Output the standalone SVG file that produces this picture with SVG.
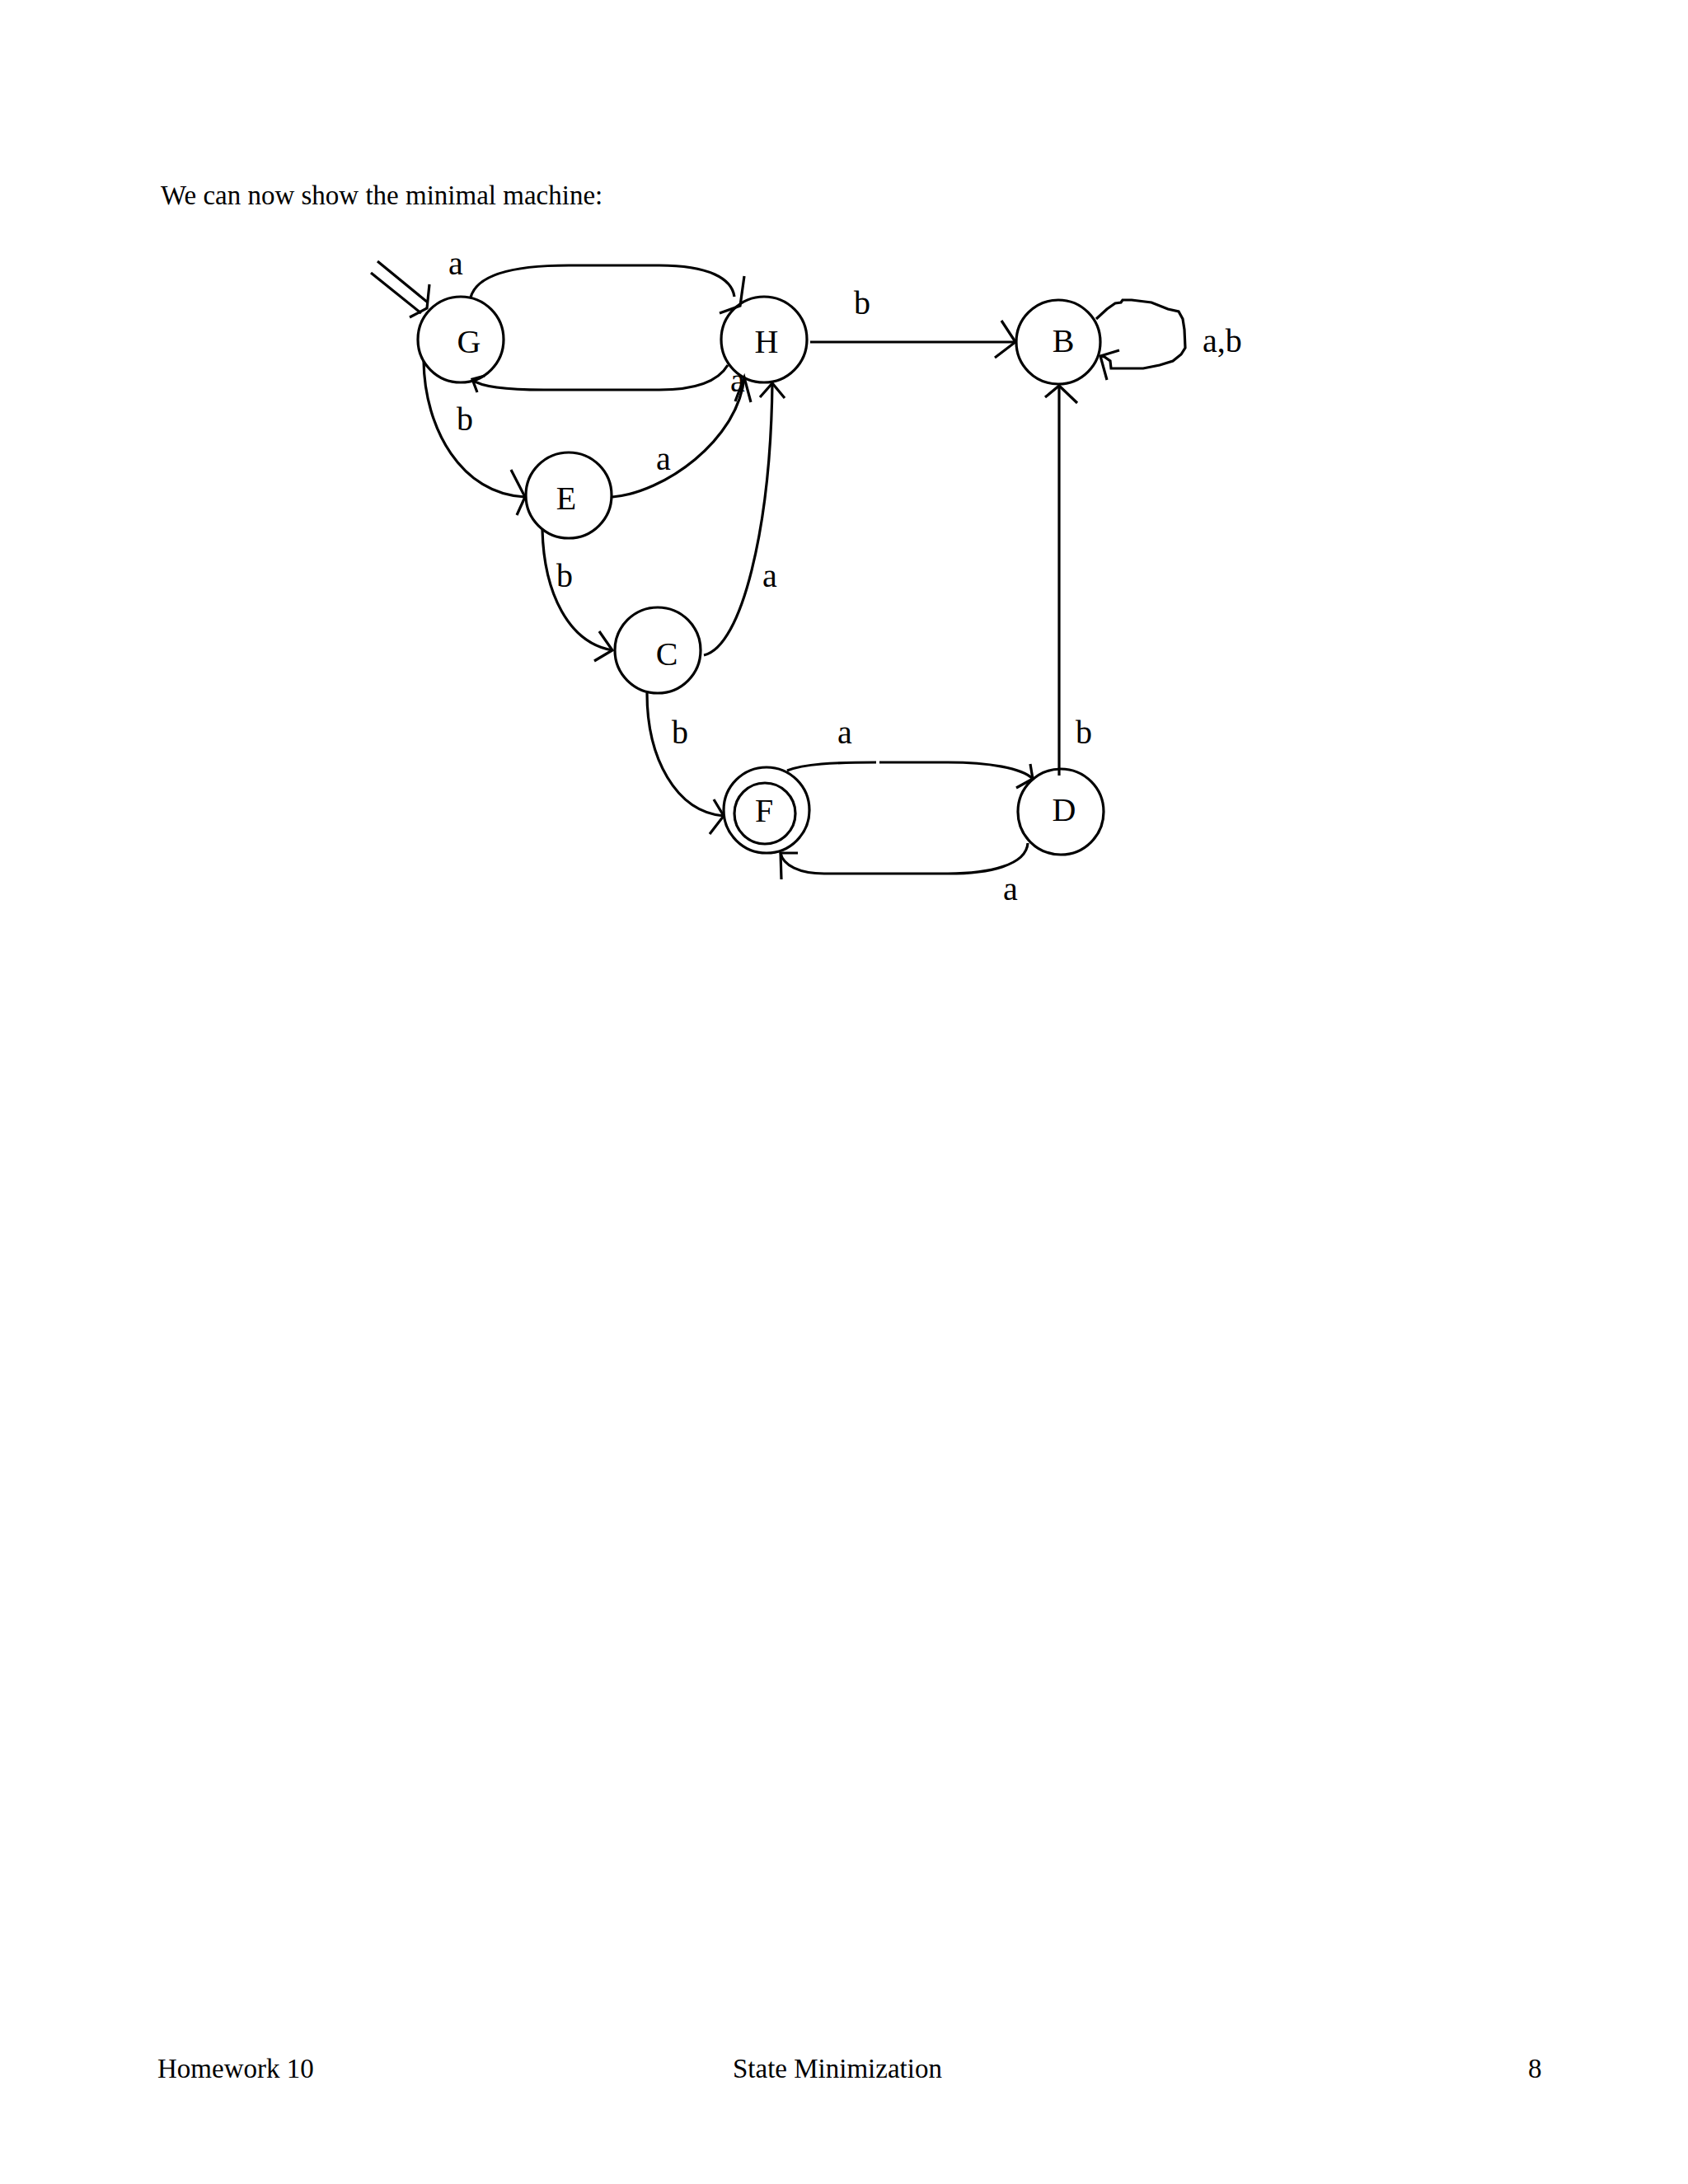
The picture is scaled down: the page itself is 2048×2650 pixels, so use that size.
<svg xmlns="http://www.w3.org/2000/svg" width="2048" height="2650" viewBox="0 0 2048 2650">
<style>
.node{fill:none;stroke:#000;stroke-width:3.2}
.edge{fill:none;stroke:#000;stroke-width:3.2}
.head{fill:none;stroke:#000;stroke-width:3.2;stroke-linejoin:miter}
.lbl{font-family:"Liberation Serif","Times New Roman",serif;font-size:40px;fill:#000}
.st{font-family:"Liberation Serif","Times New Roman",serif;font-size:40px;fill:#000;text-anchor:middle}
.body{font-family:"Liberation Serif","Times New Roman",serif;font-size:33px;fill:#000}
</style>
<rect width="2048" height="2650" fill="#fff"/>
<text class="body" x="195" y="248">We can now show the minimal machine:</text>

<g id="connectors">
  <g id="start">
    <line class="edge" x1="458" y1="317" x2="519" y2="367"/>
    <line class="edge" x1="450" y1="331" x2="511" y2="380"/>
    <polyline class="head" points="521,345 518,374 497,385"/>
  </g>
  <g id="G-H">
    <path class="edge" d="M571 361 C578 334 620 322 690 322 L800 322 C860 322 888 338 891 360"/>
    <polyline class="head" points="903,335 898,371 873,380"/>
    <text class="lbl" x="553" y="333" text-anchor="middle">a</text>
  </g>
  <g id="H-G">
    <path class="edge" d="M883 443 C870 465 840 473 800 473 L660 473 C610 473 582 468 573 461"/>
    <polyline class="head" points="588,456 573,460 579,476"/>
    <text class="lbl" x="895" y="475" text-anchor="middle">a</text>
  </g>
  <g id="G-E">
    <path class="edge" d="M514 438 C515 520 560 600 637 603"/>
    <polyline class="head" points="620,570 637,603 627,625"/>
    <text class="lbl" x="564" y="522" text-anchor="middle">b</text>
  </g>
  <g id="E-H">
    <path class="edge" d="M743 603 C805 598 895 535 903 458"/>
    <polyline class="head" points="892,487 903,458 911,488"/>
    <text class="lbl" x="805" y="570" text-anchor="middle">a</text>
  </g>
  <g id="E-C">
    <path class="edge" d="M658 643 C660 720 690 780 743 789"/>
    <polyline class="head" points="727,766 743,789 721,802"/>
    <text class="lbl" x="685" y="712" text-anchor="middle">b</text>
  </g>
  <g id="C-H">
    <path class="edge" d="M854 795 C900 785 935 640 937 465"/>
    <polyline class="head" points="922,482 937,465 952,483"/>
    <text class="lbl" x="934" y="712" text-anchor="middle">a</text>
  </g>
  <g id="C-F">
    <path class="edge" d="M785 841 C785 920 820 985 878 990"/>
    <polyline class="head" points="866,970 878,990 861,1012"/>
    <text class="lbl" x="825" y="902" text-anchor="middle">b</text>
  </g>
  <g id="F-D">
    <path class="edge" d="M955 935 C975 927 1010 925 1063 925 M1067 925 L1150 925 C1200 925 1240 932 1253 945"/>
    <polyline class="head" points="1250,927 1253,945 1233,956"/>
    <text class="lbl" x="1025" y="902" text-anchor="middle">a</text>
  </g>
  <g id="D-F">
    <path class="edge" d="M1247 1023 C1245 1050 1200 1060 1150 1060 L1000 1060 C970 1060 950 1050 947 1035"/>
    <polyline class="head" points="968,1035 947,1035 948,1067"/>
    <text class="lbl" x="1226" y="1092" text-anchor="middle">a</text>
  </g>
  <g id="D-B">
    <line class="edge" x1="1285" y1="941" x2="1285" y2="468"/>
    <polyline class="head" points="1268,482 1285,468 1307,489"/>
    <text class="lbl" x="1315" y="902" text-anchor="middle">b</text>
  </g>
  <g id="H-B">
    <line class="edge" x1="983" y1="415" x2="1232" y2="415"/>
    <polyline class="head" points="1215,389 1232,415 1207,434"/>
    <text class="lbl" x="1046" y="381" text-anchor="middle">b</text>
  </g>
  <g id="B-B">
    <path class="edge" d="M1330 387 L1343 375 L1353 368 L1360 367 L1362 364 L1373 364 L1397 367 L1417 375 L1430 378 L1435 387 L1437 400 L1438 422 L1433 430 L1423 438 L1407 443 L1387 447 L1348 447 L1347 438 L1340 433 L1335 432"/>
    <polyline class="head" points="1358,425 1335,432 1343,461"/>
    <text class="lbl" x="1459" y="427">a,b</text>
  </g>
</g>

<g id="node-G"><circle class="node" cx="559" cy="412" r="52"/><text class="st" x="569" y="428">G</text></g>
<g id="node-H"><circle class="node" cx="927" cy="412" r="52"/><text class="st" x="930" y="428">H</text></g>
<g id="node-B"><circle class="node" cx="1284" cy="415" r="51"/><text class="st" x="1290" y="427">B</text></g>
<g id="node-E"><circle class="node" cx="690" cy="601" r="52"/><text class="st" x="687" y="618">E</text></g>
<g id="node-C"><circle class="node" cx="798" cy="789" r="52"/><text class="st" x="809" y="807">C</text></g>
<g id="node-F"><circle class="node" cx="930" cy="983" r="52"/><circle class="node" cx="928" cy="987" r="37"/><text class="st" x="927" y="997">F</text></g>
<g id="node-D"><circle class="node" cx="1287" cy="985" r="52"/><text class="st" x="1291" y="996">D</text></g>

<text class="body" x="191" y="2521">Homework 10</text>
<text class="body" x="889" y="2521">State Minimization</text>
<text class="body" x="1854" y="2521">8</text>
</svg>
